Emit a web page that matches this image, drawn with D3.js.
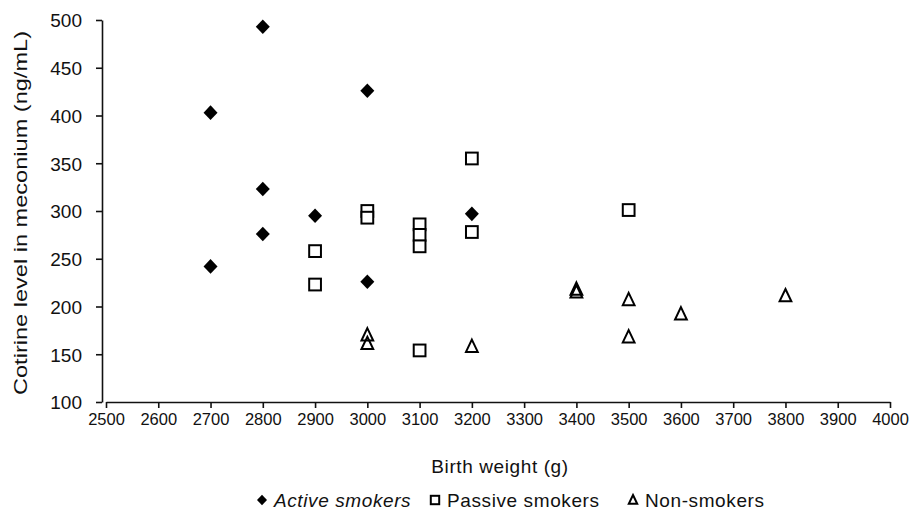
<!DOCTYPE html>
<html lang="en">
<head>
<meta charset="UTF-8">
<title>Cotinine in meconium vs birth weight</title>
<style>
    body { margin: 0; background: #fff; }
    svg text { font-family: "Liberation Sans", Arial, sans-serif; fill: #111; }
    .axis path, .axis line { stroke: #111; stroke-width: 1.6px; }
    .axis text { font-size: 19px; }
    .axis--x text { font-size: 16.5px; }
    .axis-label { font-size: 19px; text-anchor: middle; letter-spacing: 0.6px; }
    .legend text { font-size: 19px; letter-spacing: 0.6px; }
</style>
</head>
<body>
<svg id="chart" width="914" height="515"></svg>

<script src="https://d3js.org/d3.v7.min.js"></script>
<script>
    // values
    const activeWeight  = [2700, 2700, 2800, 2800, 2800, 2900, 3000, 3000, 3200];
    const activeLevel   = [403, 242, 493, 323, 276, 295, 426, 226, 297];
    const passiveWeight = [2900, 2900, 3000, 3000, 3100, 3100, 3100, 3100, 3200, 3200, 3500];
    const passiveLevel  = [258, 223, 300, 293, 286, 275, 263, 154, 355, 278, 301];
    const nonWeight     = [3000, 3000, 3200, 3400, 3400, 3500, 3500, 3600, 3800];
    const nonLevel      = [170, 161, 158, 218, 215, 207, 168, 192, 211];

    const xTicks = d3.range(2500, 4001, 100);
    const yTicks = d3.range(100, 501, 50);

    const seriesNames = ["Active smokers", "Passive smokers", "Non-smokers"];

    const series = [
        { name: seriesNames[0], shape: "diamond",  pts: activeWeight.map((w, i) => [w, activeLevel[i]]) },
        { name: seriesNames[1], shape: "square",   pts: passiveWeight.map((w, i) => [w, passiveLevel[i]]) },
        { name: seriesNames[2], shape: "triangle", pts: nonWeight.map((w, i) => [w, nonLevel[i]]) }
    ];

    const svg = d3.select("#chart");
    const x = d3.scaleLinear().domain([2500, 4000]).range([106, 890]);
    const y = d3.scaleLinear().domain([100, 500]).range([402, 20]);

    // axes
    svg.append("g")
        .attr("class", "axis axis--y")
        .attr("transform", `translate(${x(2500) - 4},0)`)
        .call(d3.axisLeft(y).tickValues(yTicks).tickSize(6).tickSizeOuter(0).tickPadding(14))
        .call(g => g.selectAll("text").attr("dy", "0.36em"));

    svg.append("g")
        .attr("class", "axis axis--x")
        .attr("transform", `translate(0,${y(100)})`)
        .call(d3.axisBottom(x).tickValues(xTicks).tickFormat(d3.format("d")).tickSize(6).tickSizeOuter(0).tickPadding(5));

    // axis titles
    svg.append("text")
        .attr("class", "axis-label")
        .attr("x", 500).attr("y", 473)
        .text("Birth weight (g)");

    svg.append("text")
        .attr("class", "axis-label")
        .attr("transform", `translate(27,${(y(100) + y(500)) / 2 + 2}) rotate(-90)`)
        .style("font-size", "18px")
        .style("letter-spacing", "0px")
        .attr("textLength", 364)
        .attr("lengthAdjust", "spacingAndGlyphs")
        .text("Cotirine level in meconium (ng/mL)");

    // markers
    function marker(sel, shape, s) {
        if (shape === "diamond") {
            sel.append("path")
                .attr("d", `M0,${-s * 0.52}L${s * 0.5},0L0,${s * 0.52}L${-s * 0.5},0Z`)
                .attr("fill", "#000");
        } else if (shape === "square") {
            sel.append("rect")
                .attr("x", -s * 0.42).attr("y", -s * 0.42)
                .attr("width", s * 0.84).attr("height", s * 0.84)
                .attr("fill", "#fff").attr("stroke", "#000").attr("stroke-width", 2);
        } else {
            sel.append("path")
                .attr("d", `M0,${-s * 0.5}L${s * 0.42},${s * 0.38}L${-s * 0.42},${s * 0.38}Z`)
                .attr("fill", "none").attr("stroke", "#000").attr("stroke-width", 2)
                .attr("stroke-linejoin", "miter");
        }
    }

    series.forEach(sr => {
        svg.append("g").selectAll("g")
            .data(sr.pts)
            .enter().append("g")
            .attr("transform", d => `translate(${x(d[0])},${y(d[1])})`)
            .each(function () { marker(d3.select(this), sr.shape, 14); });
    });

    // legend
    const legendPos = [262, 435, 633];
    const legend = svg.append("g").attr("class", "legend");
    series.forEach((sr, i) => {
        const lg = legend.append("g").attr("transform", `translate(${legendPos[i]},500)`);
        marker(lg, sr.shape, 10);
        lg.append("text")
            .attr("x", 12).attr("y", 6.5)
            .style("font-style", i === 0 ? "italic" : "normal")
            .text(sr.name);
    });
</script>
</body>
</html>
